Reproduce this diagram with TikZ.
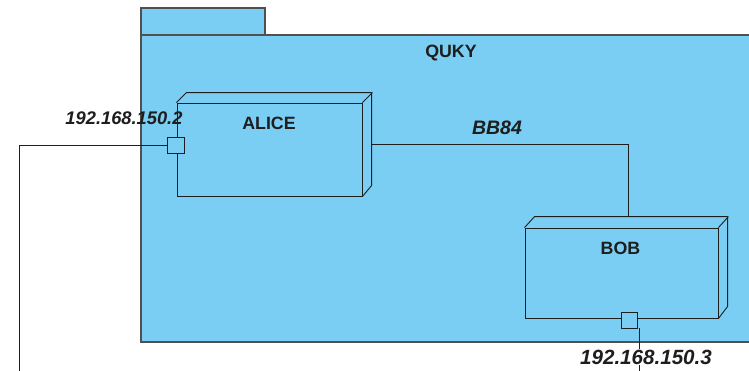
\documentclass[tikz,border=0pt]{standalone}
\usepackage{fontspec}
\setmainfont{Liberation Sans}
\definecolor{pkgblue}{RGB}{122,205,243}
\definecolor{pkgline}{RGB}{80,80,80}
\definecolor{ink}{RGB}{30,30,30}
\begin{document}
\begin{tikzpicture}[x=1pt,y=-1pt,
  pkg/.style={draw=pkgline,fill=pkgblue,line width=1.1pt},
  nodeface/.style={draw=ink,line width=0.9pt,rectangle,inner sep=0pt},
  edge3d/.style={draw=ink,line width=0.9pt,line join=round},
  portbox/.style={draw=ink,fill=pkgblue,line width=0.9pt,rectangle,inner sep=0pt,minimum width=16pt,minimum height=16pt},
  wire/.style={draw=ink,line width=0.9pt},
  title/.style={font=\fontsize{17.8}{21}\selectfont\bfseries,text=ink,inner sep=0pt,anchor=base},
  lbl/.style={font=\fontsize{18.3}{21}\selectfont\bfseries\itshape,text=ink,inner sep=0pt,anchor=base}]
\useasboundingbox (0,0) rectangle (749,370);
\fill[white] (0,0) rectangle (749,370);
\begin{scope}
\clip (0,0) rectangle (749,370);
% package
\path[pkg] (141,8) rectangle (265,35);
\path[pkg] (141,35) rectangle (770,342);
\node[title] (quky) at (451,57) {QUKY};
% wires outside
\coordinate (w1) at (19,145);
\coordinate (w2) at (19,380);
\coordinate (w3) at (639,328);
\coordinate (w4) at (639,380);
% ALICE
\node[nodeface,minimum width=185pt,minimum height=93pt] (alice) at (269.5,149.5) {};
\path[edge3d] (alice.north west) -- ++(10,-10) -- ++(185,0) -- ++(0,93) -- (alice.south east);
\path[edge3d] (alice.north east) -- ++(10,-10);
\node[title] (alicet) at (269,129) {ALICE};
\node[portbox,minimum width=17pt] (aport) at (175.5,145) {};
% BOB
\node[nodeface,minimum width=193pt,minimum height=90pt] (bob) at (621.5,273) {};
\path[edge3d] (bob.north west) -- ++(10,-11) -- ++(193,0) -- ++(0,90) -- (bob.south east);
\path[edge3d] (bob.north east) -- ++(10,-11);
\node[title] (bobt) at (620.5,254) {BOB};
\node[portbox] (bport) at (629,320) {};
% BB84 link
\coordinate (l1) at (372,144);
\coordinate (l2) at (628,217);
\path[wire] (l1) -| (l2);
\node[lbl,font=\fontsize{19.5}{22}\selectfont\bfseries\itshape] (bb84) at (497,134) {BB84};
\end{scope}
\path[wire] (aport.west) -- (w1) -- (w2);
\path[wire] (w3) -- (w4);
\node[lbl] (ip2) at (124,124) {192.168.150.2};
\node[lbl,font=\fontsize{20.6}{23}\selectfont\bfseries\itshape,fill=white,inner sep=1pt] (ip3) at (646,364) {192.168.150.3};
\end{tikzpicture}
\end{document}
